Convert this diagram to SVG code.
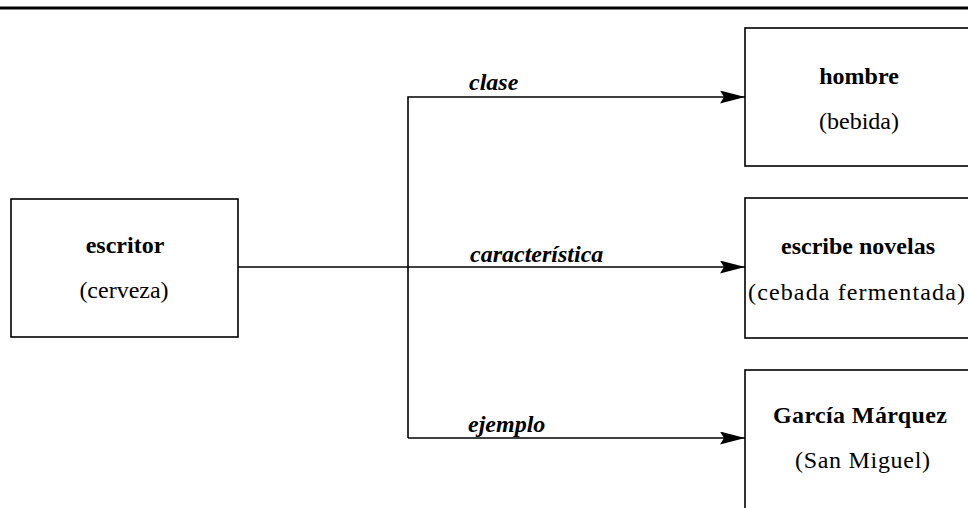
<svg xmlns="http://www.w3.org/2000/svg" width="968" height="508" viewBox="0 0 968 508">
<style>
.box{fill:#fff;stroke:#000;stroke-width:1.6}
.t{font-family:"Liberation Serif","Times New Roman",serif;font-size:24px;text-anchor:middle;fill:#000}
.b{font-weight:bold}
.lbl{font-family:"Liberation Serif","Times New Roman",serif;font-size:24px;font-style:italic;font-weight:bold;fill:#000}
.ln{fill:none;stroke:#000;stroke-width:1.6}
</style>
<defs>
<marker id="ah" markerUnits="userSpaceOnUse" markerWidth="26" markerHeight="14" refX="25" refY="6.5" orient="auto">
<path d="M0,0 L25,6.5 L0,13 L4,6.5 Z" fill="#000"/>
</marker>
</defs>
<rect x="0" y="6.5" width="968" height="3" fill="#000"/>
<g id="connectors">
<path class="ln" d="M238,267 H745" marker-end="url(#ah)"/>
<path class="ln" d="M408,438 V97 H745" marker-end="url(#ah)"/>
<path class="ln" d="M408,438 H745" marker-end="url(#ah)"/>
<text class="lbl" x="469" y="90">clase</text>
<text class="lbl" x="470" y="262">característica</text>
<text class="lbl" x="468" y="432">ejemplo</text>
</g>
<g id="escritor">
<rect class="box" x="11" y="199" width="227" height="138"/>
<text class="t b" x="125" y="253">escritor</text>
<text class="t" x="124" y="298">(cerveza)</text>
</g>
<g id="hombre">
<rect class="box" x="745" y="28" width="240" height="138"/>
<text class="t b" x="859" y="84">hombre</text>
<text class="t" x="859" y="129">(bebida)</text>
</g>
<g id="escribe">
<rect class="box" x="745" y="198" width="240" height="140"/>
<text class="t b" x="858" y="254">escribe novelas</text>
<text class="t" x="748" y="300" style="text-anchor:start" textLength="217" lengthAdjust="spacing">(cebada fermentada)</text>
</g>
<g id="garcia">
<rect class="box" x="745" y="370" width="240" height="160"/>
<text class="t b" x="773" y="423" style="text-anchor:start" textLength="174" lengthAdjust="spacing">García Márquez</text>
<text class="t" x="795" y="468" style="text-anchor:start" textLength="135" lengthAdjust="spacing">(San Miguel)</text>
</g>
</svg>
